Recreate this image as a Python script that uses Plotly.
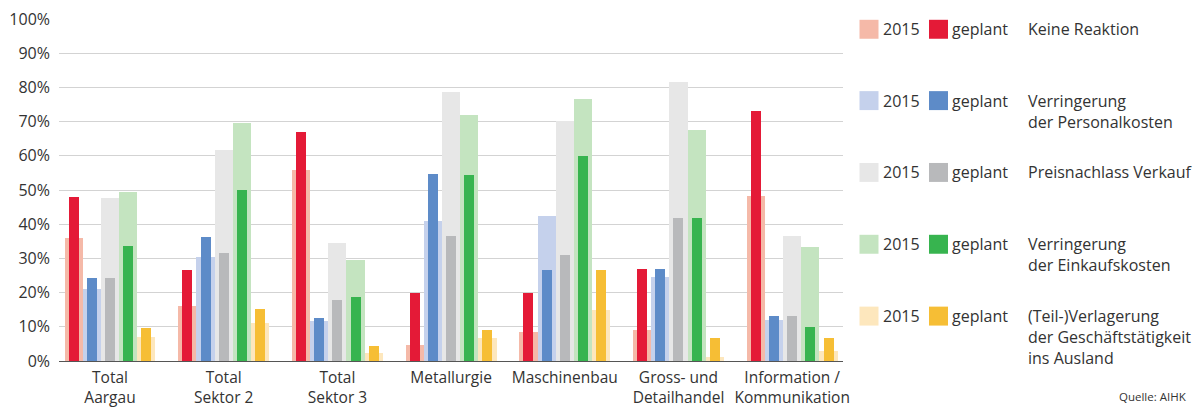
import plotly.graph_objects as go

categories = ["Total<br>Aargau", "Total<br>Sektor 2", "Total<br>Sektor 3", "Metallurgie",
              "Maschinenbau", "Gross- und<br>Detailhandel", "Information /<br>Kommunikation"]

series_names = ["Keine Reaktion", "Verringerung<br>der Personalkosten", "Preisnachlass Verkauf",
                "Verringerung<br>der Einkaufskosten",
                "(Teil-)Verlagerung<br>der Geschäftstätigkeit<br>ins Ausland"]

# 2015 values (%)
v2015_keine = [36, 16.2, 55.8, 4.8, 8.6, 9.1, 48.3]
v2015_personal = [21.2, 30.3, 11.7, 40.9, 42.5, 24.7, 12.0]
v2015_preis = [47.6, 61.7, 34.5, 78.6, 70.1, 81.6, 36.5]
v2015_einkauf = [49.4, 69.5, 29.4, 72.0, 76.5, 67.5, 33.3]
v2015_ausland = [6.9, 11.2, 2.4, 6.7, 15.0, 1.3, 3.0]

# geplant values (%)
geplant_keine = [48, 26.6, 67.1, 19.9, 19.9, 26.9, 73.0]
geplant_personal = [24.2, 36.2, 12.5, 54.6, 26.6, 26.9, 13.3]
geplant_preis = [24.2, 31.6, 17.8, 36.5, 31.0, 41.7, 13.3]
geplant_einkauf = [33.7, 49.9, 18.7, 54.5, 59.8, 41.7, 9.9]
geplant_ausland = [9.6, 15.2, 4.3, 9.0, 26.6, 6.7, 6.7]

y_ticks = [0, 10, 20, 30, 40, 50, 60, 70, 80, 90, 100]
y_ticktext = ["0%", "10%", "20%", "30%", "40%", "50%", "60%", "70%", "80%", "90%", "100%"]

light_colors = ["#f5b9a8", "#c5d1ec", "#e7e7e7", "#c4e4c0", "#fde7bd"]
dark_colors = ["#e41a37", "#5d8bc8", "#b8b9bb", "#37b44f", "#f6be35"]

v2015 = [v2015_keine, v2015_personal, v2015_preis, v2015_einkauf, v2015_ausland]
geplant = [geplant_keine, geplant_personal, geplant_preis, geplant_einkauf, geplant_ausland]

FONT = "Open Sans"
TXT = "#333333"
FS = 16

fig = go.Figure()
lw, dw = 0.16, 0.088
for j in range(5):
    fig.add_trace(go.Bar(x=categories, y=v2015[j], width=lw, offset=-0.4 + j * lw,
                         marker=dict(color=light_colors[j], line=dict(width=0)),
                         showlegend=False, name="2015"))
for j in range(5):
    fig.add_trace(go.Bar(x=categories, y=geplant[j], width=dw,
                         offset=-0.4 + j * lw + (lw - dw) / 2,
                         marker=dict(color=dark_colors[j], line=dict(width=0)),
                         showlegend=False, name="geplant"))

L, R, T, B = 59, 843, 18.7, 361.5
W, H = 1198, 407


def px(x):
    return (x - L) / (R - L)


def py(y):
    return (B - y) / (B - T)


shapes = []
annotations = []
row_centers = [29, 100.5, 172.5, 244.5, 316.5]
for j in range(5):
    yc = row_centers[j]
    shapes.append(dict(type="rect", xref="paper", yref="paper", x0=px(859.5), x1=px(878.5),
                       y0=py(yc + 9.5), y1=py(yc - 9.5), fillcolor=light_colors[j], line=dict(width=0)))
    shapes.append(dict(type="rect", xref="paper", yref="paper", x0=px(929), x1=px(948),
                       y0=py(yc + 9.5), y1=py(yc - 9.5), fillcolor=dark_colors[j], line=dict(width=0)))
    annotations.append(dict(xref="paper", yref="paper", x=px(881), y=py(yc), text="2015",
                            showarrow=False, xanchor="left", yanchor="middle",
                            font=dict(family=FONT, size=FS, color=TXT)))
    annotations.append(dict(xref="paper", yref="paper", x=px(950), y=py(yc), text="geplant",
                            showarrow=False, xanchor="left", yanchor="middle",
                            font=dict(family=FONT, size=FS, color=TXT)))
    annotations.append(dict(xref="paper", yref="paper", x=px(1026), y=py(yc - 13),
                            text=series_names[j], showarrow=False, xanchor="left", yanchor="top",
                            align="left", font=dict(family=FONT, size=FS, color=TXT)))

annotations.append(dict(xref="paper", yref="paper", x=px(1189), y=py(397.5), text="Quelle: AIHK",
                        showarrow=False, xanchor="right", yanchor="middle",
                        font=dict(family=FONT, size=11.5, color=TXT)))

fig.update_layout(
    width=W, height=H,
    margin=dict(l=L, r=W - R, t=T, b=H - B, pad=0, autoexpand=False),
    paper_bgcolor="white", plot_bgcolor="white",
    barmode="overlay",
    bargap=0,
    shapes=shapes,
    annotations=annotations,
    font=dict(family=FONT, size=FS, color=TXT),
    xaxis=dict(range=[-0.4486, 6.447], showgrid=False, showline=True, linecolor="#555555",
               linewidth=1.3, ticks="", tickfont=dict(family=FONT, size=15.5, color=TXT),
               ticklabelstandoff=2, automargin=False),
    yaxis=dict(range=[0, 100], tickvals=y_ticks, ticktext=y_ticktext, showgrid=True,
               gridcolor="#d3d3d3", gridwidth=1, zeroline=False, showline=False, ticks="",
               tickfont=dict(family=FONT, size=FS, color=TXT), ticklabelstandoff=8,
               automargin=False),
)

fig.write_html("out.html", config={"displayModeBar": False},
               post_script="document.body.style.margin='0';document.body.style.overflow='hidden';")
